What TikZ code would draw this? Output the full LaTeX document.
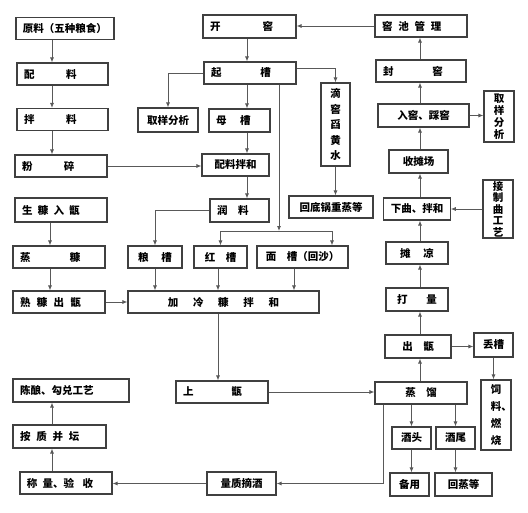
\documentclass[tikz,border=0pt]{standalone}
\usepackage{fontspec}
\setmainfont{Noto Sans CJK SC}
\usetikzlibrary{arrows.meta, positioning}

\begin{document}
\begin{tikzpicture}[x=1pt, y=-1pt]
\tikzstyle{box}=[rectangle, draw=black!75, line width=1.1pt, minimum height=22pt, inner xsep=7pt, inner ysep=0pt, font=\fontsize{10.5}{12}\selectfont\bfseries]
\tikzstyle{lbox}=[box, align=left, text width=#1]
\tikzstyle{vbox}=[box, align=center, inner xsep=0pt]
\tikzstyle{connect}=[-{Latex[length=5pt, width=4pt]}, draw=black!65, line width=0.8pt]
\useasboundingbox (0,0) rectangle (528,512);
% columns for the connectors
\coordinate (cA) at (52,0);
\coordinate (cB) at (50,0);
\coordinate (cD) at (247,0);
\coordinate (cR) at (218,0);
\coordinate (cM) at (332,0);
\coordinate (cMM) at (294,0);
\coordinate (cZ) at (383,0);
\coordinate (cE) at (420,0);
\coordinate (fork) at (279,231);
% left column
    \node[box, minimum width=96pt] (yuanliao) at (65,28.5) {原料（五种粮食）};
    \node[lbox=77pt] (peiliao) at (62.5,74) {配\hspace{3em}料};
    \node[lbox=77pt] (banliao) at (62.5,119.5) {拌\hspace{3em}料};
    \node[lbox=78pt] (fensui) at (61,166) {粉\hspace{3em}碎};
    \node[lbox=78pt, minimum height=24pt] (shengkang) at (61,210) {生\hspace{.5em}糠\hspace{.5em}入\hspace{.5em}甑};
    \node[lbox=78pt] (zhengkang) at (59,257) {蒸\hspace{3.75em}糠};
    \node[lbox=78pt] (shukang) at (59,302) {熟\hspace{.6em}糠\hspace{.6em}出\hspace{.6em}甑};
    \node[lbox=102pt, minimum height=23pt] (chenniang) at (71,390.5) {陈酿、勾兑工艺};
    \node[lbox=79pt, minimum height=23pt] (anzhi) at (59.5,436.5) {按\hspace{.55em}质\hspace{.55em}并\hspace{.55em}坛};
    \node[lbox=78pt] (chengliang) at (66,483) {称\hspace{.5em}量、验\hspace{.8em}收};
% middle
    \node[lbox=79pt, minimum height=23pt] (kaijiao) at (249.5,26.5) {开\hspace{4em}窖};
    \node[lbox=78pt] (qicao) at (250,73) {起\hspace{3.7em}槽};
    \node[box, minimum width=60pt, minimum height=24pt] (quyang1) at (168,120) {取样分析};
    \node[lbox=47pt, minimum height=23pt] (mucao) at (239.5,120.5) {母\hspace{1.3em}槽};
    \node[box, minimum width=67pt] (peiliaobanhe) at (235.5,165) {配料拌和};
    \node[lbox=45pt, minimum height=23pt] (runliao) at (239.5,210.5) {润\hspace{1em}料};
    \node[vbox, minimum width=29pt, minimum height=83pt, font=\fontsize{10.5}{15.5}\selectfont\bfseries] (dijiao) at (335.5,124.5) {滴\\窖\\舀\\黄\\水};
    \node[box, minimum width=84pt] (huidiguo) at (331,207) {回底锅重蒸等};
    \node[box, minimum width=54pt] (liangcao) at (155,257) {粮\hspace{1.2em}槽};
    \node[box, minimum width=53pt] (hongcao) at (220.5,257) {红\hspace{1em}槽};
    \node[box, minimum width=91pt] (miancao) at (302.5,257) {面\hspace{1em}槽（回沙）};
    \node[box, minimum width=191pt] (jialeng) at (223.5,302) {加\hspace{1.4em}冷\hspace{1.4em}糠\hspace{1.4em}拌\hspace{1.4em}和};
    \node[lbox=78pt] (shangzeng) at (222,392) {上\hspace{3.6em}甑};
    \node[box, minimum width=69pt, minimum height=23pt] (liangzhi) at (241.5,483.5) {量质摘酒};
% right column
    \node[lbox=78pt] (jiaochi) at (421,26) {窖\hspace{.55em}池\hspace{.55em}管\hspace{.55em}理};
    \node[lbox=76pt] (fengjiao) at (421,71) {封\hspace{3.7em}窖};
    \node[box, minimum width=91pt, minimum height=23pt] (rujiao) at (423.5,115.5) {入窖、踩窖};
    \node[vbox, minimum width=30pt, minimum height=51pt] (quyang2) at (499,116.5) {取\\样\\分\\析};
    \node[box, minimum width=59pt, minimum height=23pt] (shoutan) at (418.5,161.5) {收摊场};
    \node[box, minimum width=62pt] (xiaqu) at (417,209) {下曲、拌和};
    \node[vbox, minimum width=30pt, minimum height=58pt, font=\fontsize{10.5}{11.5}\selectfont\bfseries] (jiezhiqu) at (498,209) {接\\制\\曲\\工\\艺};
    \node[box, minimum width=62pt] (tanliang) at (417,253) {摊\hspace{1.2em}凉};
    \node[box, minimum width=62pt, minimum height=23pt] (daliang) at (417,299.5) {打\hspace{1.8em}量};
    \node[box, minimum width=66pt, minimum height=23pt] (chuzeng) at (418,346.5) {出\hspace{1em}甑};
    \node[box, minimum width=39pt, minimum height=24pt, inner xsep=0pt] (diucao) at (493.5,345) {丢槽};
    \node[vbox, minimum width=30pt, minimum height=70pt, font=\fontsize{10.5}{17}\selectfont\bfseries] (siliao) at (496,415) {饲\\料\rlap{、}\\燃\\烧};
    \node[box, minimum width=92pt] (zhengliu) at (421,393) {蒸\hspace{1em}馏};
    \node[box, minimum width=39pt, inner xsep=0pt] (jiutou) at (411.5,438) {酒头};
    \node[box, minimum width=39pt, inner xsep=0pt] (jiuwei) at (455.5,438) {酒尾};
    \node[box, minimum width=39pt, minimum height=23pt, inner xsep=0pt] (beiyong) at (409.5,484.5) {备用};
    \node[box, minimum width=57pt, minimum height=23pt] (huizheng) at (463.5,484.5) {回蒸等};
% grain line
    \draw[connect] (yuanliao.south -| cA) -- (peiliao.north -| cA);
    \draw[connect] (peiliao.south -| cA) -- (banliao.north -| cA);
    \draw[connect] (banliao.south -| cA) -- (fensui.north -| cA);
    \draw[connect] (fensui.east) -- (fensui.east -| peiliaobanhe.west);
% husk line
    \draw[connect] (shengkang.south -| cB) -- (zhengkang.north -| cB);
    \draw[connect] (zhengkang.south -| cB) -- (shukang.north -| cB);
    \draw[connect] (shukang.east) -- (shukang.east -| jialeng.west);
% pit line
    \draw[connect] (kaijiao.south -| cD) -- (qicao.north -| cD);
    \draw[connect] (qicao.south -| cD) -- (mucao.north -| cD);
    \draw[connect] (mucao.south -| cD) -- (peiliaobanhe.north -| cD);
    \draw[connect] (peiliaobanhe.south -| cD) -- (runliao.north -| cD);
    \draw[connect] (qicao.west) -| (quyang1.north);
    \draw[connect] ([yshift=5pt]qicao.east) -| (dijiao.north);
    \draw[connect] (dijiao.south) -- (huidiguo.north -| dijiao.south);
    \draw[connect] (qicao.south -| fork) -- (fork);
    \draw[connect] (fork) -| (hongcao.north);
    \draw[connect] (fork) -| (miancao.north -| cM);
    \draw[connect] (runliao.west) -| (liangcao.north);
    \draw[connect] (liangcao.south) -- (liangcao.south |- jialeng.north);
    \draw[connect] (hongcao.south -| cR) -- (jialeng.north -| cR);
    \draw[connect] (miancao.south -| cMM) -- (jialeng.north -| cMM);
    \draw[connect] (jialeng.south -| cR) -- (shangzeng.north -| cR);
    \draw[connect] (shangzeng.east) -- (shangzeng.east -| zhengliu.west);
% distilling
    \draw[connect] (zhengliu.south -| cZ) |- (liangzhi.east);
    \draw[connect] (liangzhi.west) -- (liangzhi.west -| chengliang.east);
    \draw[connect] (chengliang.north -| cA) -- (anzhi.south -| cA);
    \draw[connect] (anzhi.north -| cA) -- (chenniang.south -| cA);
    \draw[connect] (zhengliu.south -| jiutou) -- (jiutou.north);
    \draw[connect] (zhengliu.south -| jiuwei) -- (jiuwei.north);
    \draw[connect] (jiutou.south) -- (jiutou.south |- beiyong.north);
    \draw[connect] (jiuwei.south) -- (jiuwei.south |- huizheng.north);
% back to the pit
    \draw[connect] (zhengliu.north -| cE) -- (chuzeng.south -| cE);
    \draw[connect] (chuzeng.east) -- (chuzeng.east -| diucao.west);
    \draw[connect] (diucao.south) -- (diucao.south |- siliao.north);
    \draw[connect] (chuzeng.north -| cE) -- (daliang.south -| cE);
    \draw[connect] (daliang.north -| cE) -- (tanliang.south -| cE);
    \draw[connect] (tanliang.north -| cE) -- (xiaqu.south -| cE);
    \draw[connect] (jiezhiqu.west) -- (jiezhiqu.west -| xiaqu.east);
    \draw[connect] (xiaqu.north -| cE) -- (shoutan.south -| cE);
    \draw[connect] (shoutan.north -| cE) -- (rujiao.south -| cE);
    \draw[connect] (rujiao.east) -- (rujiao.east -| quyang2.west);
    \draw[connect] (rujiao.north -| cE) -- (fengjiao.south -| cE);
    \draw[connect] (fengjiao.north -| cE) -- (jiaochi.south -| cE);
    \draw[connect] (jiaochi.west) -- (jiaochi.west -| kaijiao.east);
\end{tikzpicture}
\end{document}
